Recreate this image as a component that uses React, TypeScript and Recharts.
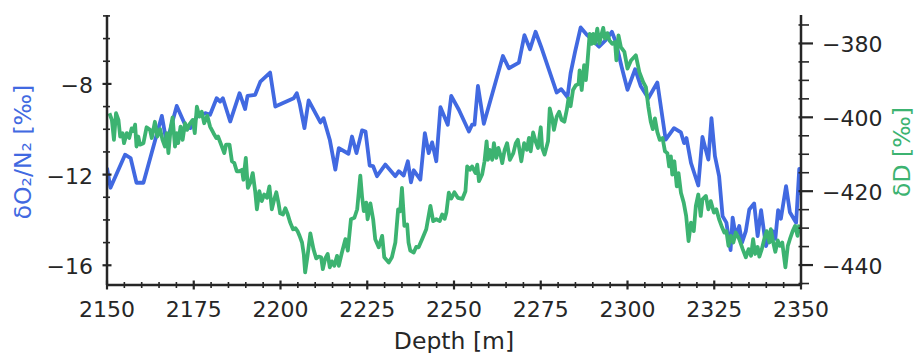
import React from "react";
import { LineChart, Line, XAxis, YAxis, Label } from "recharts";

// δO2/N2 record (blue, left axis)
const o2n2Depth = [
  2150, 2151, 2155.2, 2156.8, 2158.5, 2160.5, 2165.8, 2167.2, 2170.1, 2172.5, 2174, 2175.9, 2178.3, 2179.7,
  2181.6, 2182.6, 2183.4, 2185.5, 2188.2, 2189.8, 2190.5, 2192.7, 2194.2, 2197, 2198.5, 2203.8, 2204.7, 2205.5,
  2206.9, 2208.1, 2211.5, 2212.4, 2214.2, 2215.8, 2216.8, 2219.6, 2220.6, 2221.9, 2223.5, 2224.5, 2225.7, 2226.7,
  2227.8, 2230.2, 2233.1, 2234.1, 2235.5, 2236.7, 2237.6, 2238.4, 2240.3, 2241.6, 2242.7, 2243.7, 2244.9, 2246.1,
  2248.2, 2249.2, 2251.4, 2254.3, 2255.2, 2255.9, 2256.9, 2258.6, 2264.1, 2265.8, 2268.7, 2270.3, 2271.9, 2273.5,
  2275.1, 2279.6, 2280.9, 2282.7, 2283.6, 2284.9, 2286.5, 2288.4, 2289.9, 2291.8, 2293.7, 2295.5, 2296.6, 2298.3,
  2300, 2302.2, 2303.8, 2306, 2308.6, 2311, 2313.4, 2315.4, 2316.3, 2317, 2318.3, 2320.4, 2321.6, 2323.3, 2324.2,
  2325.2, 2326.4, 2327.4, 2328.5, 2329.7, 2330.3, 2331.2, 2332.2, 2333, 2334.1, 2335.1, 2336.5, 2337.5, 2338.5,
  2339.9, 2340.9, 2341.8, 2342.6, 2343.4, 2344.2, 2345.7, 2346.8, 2348.6, 2349.5, 2350,
];
const o2n2Values = [
  -11.7, -12.58, -11.12, -11.27, -12.36, -12.36, -9.41, -10.6, -8.97, -9.8, -9.95, -9.44, -9.29, -9.36,
  -8.63, -8.78, -8.63, -9.66, -8.41, -9.11, -8.53, -8.48, -7.9, -7.5, -9.0, -8.63, -8.41, -8.85,
  -9.95, -8.73, -9.7, -9.51, -10.46, -11.78, -10.83, -11.08, -10.32, -11.05, -10.05, -10.1, -11.6, -11.63,
  -12.07, -11.56, -12.07, -11.85, -12.04, -11.41, -12.34, -11.81, -12.22, -10.17, -11.05, -10.58, -11.41, -9.03,
  -9.8, -8.53, -9.14, -10.1, -9.8, -9.8, -8.09, -9.76, -6.77, -7.31, -7.06, -5.85, -6.47, -5.7,
  -6.36, -8.38, -8.23, -8.58, -7.53, -6.58, -5.51, -5.85, -6.07, -6.36, -6.07, -5.7, -6.14, -7.24,
  -8.26, -7.35, -8.09, -8.63, -7.94, -10.46, -9.95, -10.14, -10.61, -10.39, -11.49, -12.48, -10.34, -11.34, -9.51,
  -11.19, -12.07, -13.83, -14.12, -15.33, -13.9, -14.71, -14.27, -15.0, -14.49, -13.54, -13.27, -14.71, -13.57,
  -15.15, -14.71, -14.49, -14.83, -13.57, -13.95, -12.51, -13.66, -14.12, -11.75, -12.9,
];

// δD record (green, right axis)
const dDDepth = [
  2150.7, 2151.4, 2152, 2152.6, 2153.3, 2153.8, 2154.5, 2154.9, 2155.7, 2156.4, 2157.1, 2157.6, 2158.1, 2158.5,
  2159, 2159.5, 2160.5, 2161.4, 2162.4, 2162.9, 2163.8, 2164.5, 2165.3, 2166, 2166.7, 2167.2, 2167.7, 2168.4,
  2168.9, 2169.6, 2170.1, 2170.5, 2171.2, 2171.8, 2172.5, 2173.1, 2173.7, 2174.7, 2175.3, 2175.9, 2176.6, 2177.3,
  2178, 2178.9, 2179.7, 2180.7, 2181.5, 2182, 2183.1, 2183.8, 2184.3, 2185.3, 2186, 2186.7, 2187.4, 2188.2,
  2188.9, 2189.3, 2190, 2190.6, 2191.3, 2192, 2192.7, 2193.2, 2193.9, 2194.6, 2195.3, 2196.1, 2196.8, 2197.5,
  2198.2, 2198.8, 2199.4, 2199.9, 2200.7, 2201.4, 2202, 2202.8, 2203.6, 2204.3, 2204.9, 2205.5, 2206.2, 2206.7,
  2207.1, 2207.8, 2208.6, 2209.5, 2210.3, 2211, 2211.7, 2212.2, 2212.9, 2213.6, 2214.2, 2214.8, 2215.5, 2216.3,
  2216.8, 2217.7, 2218.7, 2219.4, 2220.3, 2221.3, 2222.1, 2223, 2223.5, 2224, 2224.7, 2225.1, 2225.9, 2226.7,
  2227.3, 2228.3, 2229.3, 2229.9, 2231.2, 2232.1, 2233.1, 2233.9, 2234.5, 2235, 2235.7, 2236.5, 2236.9, 2237.4,
  2238.4, 2239.1, 2239.8, 2240.8, 2242, 2243.2, 2244, 2244.9, 2245.9, 2246.6, 2247.3, 2247.8, 2248.5, 2249.2,
  2250.1, 2251.1, 2252.4, 2253.3, 2253.8, 2254.6, 2255.2, 2256.2, 2256.7, 2257.2, 2258.1, 2258.8, 2259.4, 2259.8,
  2260.3, 2261, 2261.5, 2262.2, 2262.8, 2263.5, 2263.9, 2264.6, 2265.3, 2266.1, 2267.1, 2267.8, 2268.4, 2269.4,
  2270.2, 2271, 2271.6, 2272.1, 2272.8, 2273.5, 2274.2, 2275, 2275.4, 2276.1, 2277.1, 2277.6, 2278.3, 2278.8,
  2279.6, 2280.3, 2281, 2281.8, 2282.5, 2283, 2283.6, 2284.3, 2285.1, 2285.9, 2286.2, 2286.8, 2287.5, 2288,
  2288.4, 2289.1, 2289.7, 2290.1, 2290.6, 2291.3, 2291.9, 2292.5, 2293, 2293.5, 2294.2, 2294.8, 2295.6, 2296.4,
  2296.8, 2297.4, 2298.1, 2299.1, 2300, 2301, 2302.4, 2303.4, 2304.5, 2305.3, 2306, 2306.7, 2307.3, 2307.9,
  2308.6, 2309.3, 2310.1, 2310.8, 2311.5, 2312, 2312.5, 2312.9, 2313.5, 2314.2, 2314.7, 2315.4, 2316.2, 2316.9,
  2317.6, 2318.3, 2319.1, 2319.7, 2320.4, 2321.1, 2321.6, 2322.6, 2323.3, 2324, 2324.9, 2325.6, 2326.4, 2327.1,
  2327.9, 2328.5, 2329.1, 2329.8, 2330.5, 2331.2, 2332.2, 2333.2, 2334.1, 2334.9, 2335.6, 2336.2, 2336.8, 2337.5,
  2338, 2338.7, 2339.4, 2340.1, 2340.9, 2341.3, 2342, 2342.6, 2343.3, 2343.9, 2344.6, 2345.5, 2346.2, 2346.8,
  2347.6, 2348.3, 2349, 2349.5,
];
const dDValues = [
  -398.9, -400.7, -406.1, -398.9, -400.7, -405.2, -404.3, -407, -404.3, -405.6, -403, -403.7, -402, -407.9,
  -405.2, -407.4, -407, -402.7, -403.4, -405.6, -401.2, -405.2, -403.2, -406.1, -407.9, -404.3, -409.7, -402.5,
  -400, -407.9, -404.3, -407, -402.5, -406.1, -401.6, -403.4, -402, -400.7, -404.3, -397.1, -399.8, -398.5,
  -401.6, -399.6, -402.5, -404.3, -405.6, -405.2, -407.9, -409.7, -407.4, -407.4, -411.9, -412.4, -414.6, -414.6,
  -414.2, -416.9, -411, -419.1, -417.7, -415.1, -420, -424.9, -420, -422.7, -420.9, -421.8, -418.7, -424.9,
  -422.2, -420.3, -423.1, -426, -426.3, -424.6, -426, -428.5, -430.3, -430, -430.8, -432.1, -433.9, -437,
  -442, -437.5, -431.4, -435.7, -438.2, -437.7, -437.9, -441.1, -438.2, -437, -440.6, -439, -440.2, -437.5,
  -440.2, -436.6, -433, -436.1, -427.6, -427.2, -424.9, -415.8, -421.4, -425.4, -423.1, -427.6, -423.3, -427.6,
  -433, -435.2, -432.1, -437.9, -439.3, -437.9, -433.9, -424.9, -425.4, -419.1, -429.4, -429, -433.9, -436.1,
  -436.6, -435.1, -435.2, -433, -430.3, -424, -428.1, -427.6, -428.1, -426.3, -427.5, -425.8, -420.4, -422,
  -420.3, -421.8, -422.1, -420, -413.3, -414.2, -413.3, -415.1, -412.8, -417.3, -415.5, -411.9, -406.5, -411.5,
  -408.8, -411.5, -407, -411, -408.3, -410.6, -412.4, -408.8, -407, -411.5, -409.7, -407, -406.1, -411.9,
  -407, -408.8, -405.6, -409.2, -404.1, -406.5, -408.3, -402.7, -408.3, -410.1, -406.5, -397.6, -400.3, -403.4,
  -399.8, -398.5, -400.7, -401.2, -398, -394.9, -397, -392.6, -391.3, -391, -387.3, -392.6, -385.9, -389.9,
  -385.9, -377.4, -380.1, -377.4, -380, -376, -380, -377.6, -375.8, -378.7, -377.2, -379.2, -380.1, -379.6,
  -384.6, -377.8, -381, -382.3, -386.8, -384.6, -383.2, -387.7, -390.4, -391.8, -397.1, -401.2, -403.2, -400.3,
  -404, -406.1, -405.6, -409.2, -409.7, -413.3, -410.6, -415.5, -411.9, -418.7, -415.1, -420.4, -423.1, -426.7,
  -433.5, -428.5, -430.8, -424, -420.9, -426.7, -422.2, -421.3, -424.9, -422.7, -425.8, -424.9, -427.6, -429.4,
  -431.2, -430.8, -434.8, -432.1, -433.9, -431.2, -433, -435.7, -437.9, -435.7, -437.5, -433, -437, -435.1,
  -437.7, -435.7, -433, -430.8, -433.9, -430.3, -433.9, -436.4, -433.3, -434.8, -433.9, -440.6, -434.8, -433,
  -430.8, -429.4, -432.1, -429,
];

// Axis ticks
const depthMajorTicks = [2150, 2175, 2200, 2225, 2250, 2275, 2300, 2325, 2350];
const o2n2MajorTicks = [-16, -12, -8];
const dDMajorTicks = [-440, -420, -400, -380];

const range = (a: number, b: number, step: number) => {
  const out: number[] = [];
  for (let v = a; v <= b + 1e-9; v += step) out.push(Math.round(v * 100) / 100);
  return out;
};
const depthAllTicks = range(2150, 2350, 5);
const o2n2AllTicks = range(-16, -5, 1);
const dDAllTicks = range(-445, -375, 5);

const o2n2Data = o2n2Depth.map((d, i) => ({ depth: d, o2n2: o2n2Values[i] }));
const dDData = dDDepth.map((d, i) => ({ depth: d, dD: dDValues[i] }));

const INK = "#262626";
const BLUE = "#4169E1";
const GREEN = "#3CB371";
const FONT = "DejaVu Sans";
const FS = 22;
const LFS = 23.5;

const fmt = (v: number) => (v < 0 ? "\u2212" + Math.abs(v) : String(v));

const XTick = (props: any) => {
  const { x, y, payload } = props;
  const major = depthMajorTicks.includes(payload.value);
  const h = major ? 4.5 : 3;
  return (
    <g>
      <line x1={x} x2={x} y1={y - h} y2={y + h} stroke={INK} strokeWidth={major ? 2.2 : 1.6} />
      {major && (
        <text x={x} y={y + 32} textAnchor="middle" fontSize={FS} fontFamily={FONT} fill={INK}>
          {fmt(payload.value)}
        </text>
      )}
    </g>
  );
};

const LeftTick = (props: any) => {
  const { x, y, payload } = props;
  const major = o2n2MajorTicks.includes(payload.value);
  return (
    <g>
      <line x1={x - (major ? 4.5 : 4)} x2={x + (major ? 4.5 : 3)} y1={y} y2={y} stroke={INK} strokeWidth={major ? 2.2 : 1.6} />
      {major && (
        <text x={x - 14} y={y + 9} textAnchor="end" fontSize={FS} fontFamily={FONT} fill={INK}>
          {fmt(payload.value)}
        </text>
      )}
    </g>
  );
};

const RightTick = (props: any) => {
  const { x, y, payload } = props;
  const major = dDMajorTicks.includes(payload.value);
  return (
    <g>
      <line x1={x - 2.5} x2={x + (major ? 12 : 8)} y1={y} y2={y} stroke={INK} strokeWidth={major ? 2.2 : 1.6} />
      {major && (
        <text x={x + 21} y={y + 9} textAnchor="start" fontSize={FS} fontFamily={FONT} fill={INK}>
          {fmt(payload.value)}
        </text>
      )}
    </g>
  );
};

export default function App() {
  return (
    <div style={{ position: "absolute", left: 0, top: 0, width: 914, height: 353, background: "#fff" }}>
      <LineChart width={914} height={353} margin={{ top: 15, right: 0, bottom: 0, left: 0 }}>
        <XAxis
          type="number"
          dataKey="depth"
          domain={[2150, 2350]}
          allowDataOverflow
          ticks={depthAllTicks}
          interval={0}
          tick={<XTick />}
          tickLine={false}
          tickSize={0}
          tickMargin={0}
          height={68}
          axisLine={{ stroke: INK, strokeWidth: 2.5 }}
        >
          <Label
            content={(p: any) => {
              const vb = p.viewBox;
              return (
                <text x={vb.x + vb.width / 2} y={vb.y + 64} textAnchor="middle" fontSize={LFS} fontFamily={FONT} fill={INK}>
                  Depth [m]
                </text>
              );
            }}
          />
        </XAxis>
        <YAxis
          yAxisId="left"
          orientation="left"
          type="number"
          domain={[-16.87, -4.96]}
          allowDataOverflow
          ticks={o2n2AllTicks}
          interval={0}
          tick={<LeftTick />}
          tickLine={false}
          tickSize={0}
          tickMargin={0}
          width={107}
          axisLine={{ stroke: INK, strokeWidth: 2.5 }}
        >
          <Label
            content={() => (
              <text
                x={23}
                y={152}
                transform="rotate(-90, 23, 152)"
                textAnchor="middle"
                dominantBaseline="central"
                fontSize={LFS}
                fontFamily={FONT}
                fill={BLUE}
              >
                δO₂/N₂ [‰]
              </text>
            )}
          />
        </YAxis>
        <YAxis
          yAxisId="right"
          orientation="right"
          type="number"
          domain={[-445.4, -372.3]}
          allowDataOverflow
          ticks={dDAllTicks}
          interval={0}
          tick={<RightTick />}
          tickLine={false}
          tickSize={0}
          tickMargin={0}
          width={113}
          axisLine={{ stroke: INK, strokeWidth: 2.5 }}
        >
          <Label
            content={() => (
              <text
                x={902}
                y={152}
                transform="rotate(-90, 902, 152)"
                textAnchor="middle"
                dominantBaseline="central"
                fontSize={LFS}
                fontFamily={FONT}
                fill={GREEN}
              >
                δD [‰]
              </text>
            )}
          />
        </YAxis>
        <Line
          yAxisId="left"
          data={o2n2Data}
          dataKey="o2n2"
          type="linear"
          stroke={BLUE}
          strokeWidth={3.8}
          dot={false}
          isAnimationActive={false}
          strokeLinejoin="round"
        />
        <Line
          yAxisId="right"
          data={dDData}
          dataKey="dD"
          type="linear"
          stroke={GREEN}
          strokeWidth={3.8}
          dot={false}
          isAnimationActive={false}
          strokeLinejoin="round"
        />
      </LineChart>
    </div>
  );
}
